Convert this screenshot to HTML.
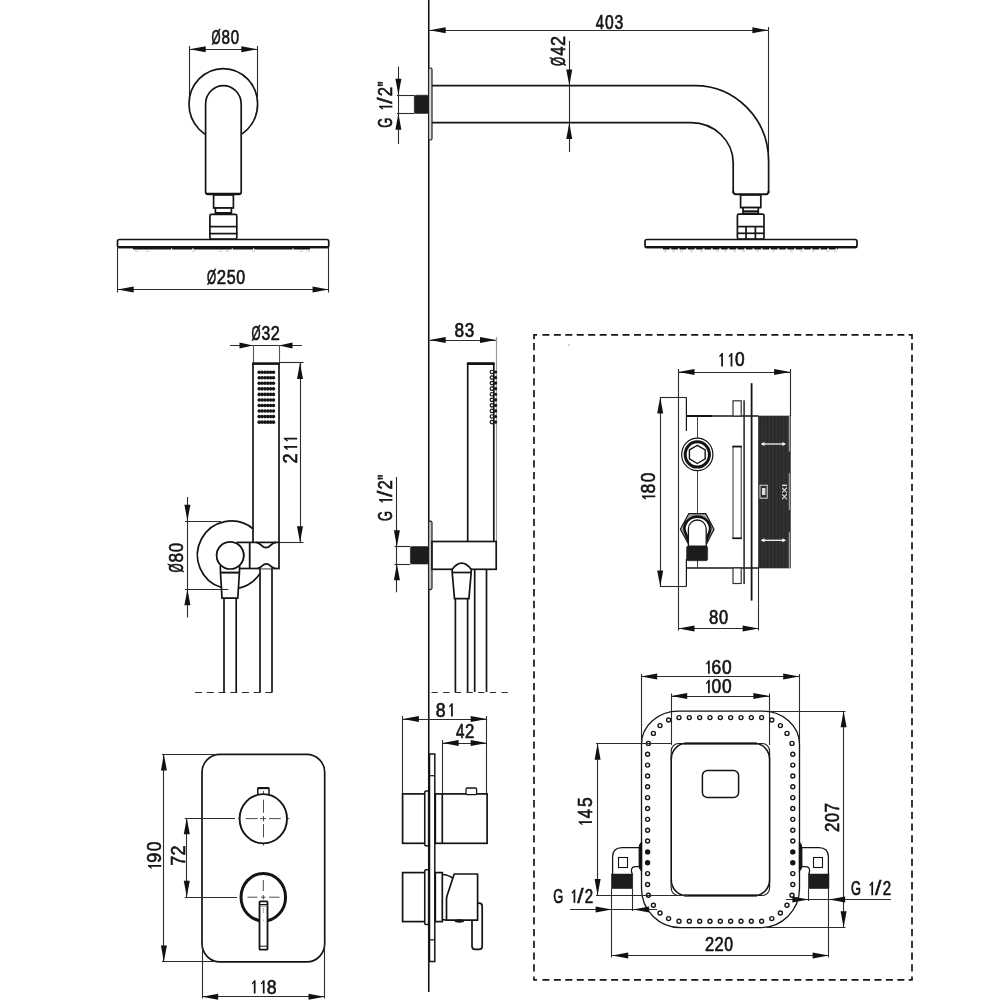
<!DOCTYPE html>
<html><head><meta charset="utf-8"><title>Drawing</title>
<style>
html,body{margin:0;padding:0;background:#fff;}
body{width:1000px;height:1000px;overflow:hidden;}
svg{display:block;will-change:transform;}
text{font-family:"Liberation Sans",sans-serif;fill:#151515;stroke:#151515;stroke-width:0.6px;vector-effect:non-scaling-stroke;}
</style></head><body>
<svg width="1000" height="1000" viewBox="0 0 1000 1000">
<rect width="1000" height="1000" fill="#fff"/>
<g transform="translate(211.90,44.2)"><text transform="translate(-0.41,0) scale(0.603,1)" font-size="19.4">Ø</text><text transform="translate(9.64,0) scale(0.785,1)" font-size="19.4">8</text><text transform="translate(18.87,0) scale(0.771,1)" font-size="19.4">0</text></g>
<line x1="189.5" y1="49.5" x2="257.5" y2="49.5" stroke="#2c2c2c" stroke-width="1.1" />
<polygon points="189.50,49.25 205.70,46.25 205.70,52.25" fill="#111"/>
<polygon points="257.50,49.25 241.30,46.25 241.30,52.25" fill="#111"/>
<line x1="189.5" y1="46" x2="189.5" y2="97" stroke="#2c2c2c" stroke-width="1.1" />
<line x1="257.5" y1="46" x2="257.5" y2="97" stroke="#2c2c2c" stroke-width="1.1" />
<ellipse cx="223.3" cy="104.1" rx="34.3" ry="35.55" fill="none" stroke="#141414" stroke-width="1.7"/>
<path d="M205.6,192 L205.6,104 A17.8,18.4 0 0 1 241.2,104 L241.2,192 Q241.2,194.3 239,194.3 L207.8,194.3 Q205.6,194.3 205.6,192 Z" stroke="#141414" stroke-width="1.7" fill="#fff" />
<line x1="206.8" y1="193.7" x2="240" y2="193.7" stroke="#141414" stroke-width="1.8" />
<rect x="213.6" y="195" width="19.8" height="13" rx="0" stroke="#141414" stroke-width="1.7" fill="#fff" />
<rect x="215.4" y="208" width="16" height="5.6" rx="0" stroke="#141414" stroke-width="1.7" fill="#fff" />
<line x1="215.4" y1="213" x2="231.4" y2="213" stroke="#141414" stroke-width="2.0" />
<rect x="209.9" y="214.4" width="26.9" height="24.8" rx="1.5" stroke="#141414" stroke-width="1.7" fill="#fff" />
<line x1="209.4" y1="226.6" x2="237.3" y2="226.6" stroke="#141414" stroke-width="1.7" />
<line x1="209.4" y1="233.6" x2="237.3" y2="233.6" stroke="#141414" stroke-width="1.7" />
<rect x="117.5" y="239.5" width="211.25" height="8" rx="2" stroke="#141414" stroke-width="1.7" fill="#fff" />
<line x1="118.5" y1="247.2" x2="327.75" y2="247.2" stroke="#141414" stroke-width="2.2" />
<line x1="133" y1="248.7" x2="310" y2="248.7" stroke="#161616" stroke-width="1.5" stroke-dasharray="38 1.2 20 1.5"/>
<line x1="135" y1="251.2" x2="138" y2="251.2" stroke="#c4c4c4" stroke-width="1.0" />
<line x1="146" y1="251.2" x2="149" y2="251.2" stroke="#c4c4c4" stroke-width="1.0" />
<line x1="192" y1="251.2" x2="195" y2="251.2" stroke="#c4c4c4" stroke-width="1.0" />
<line x1="219" y1="251.2" x2="222" y2="251.2" stroke="#c4c4c4" stroke-width="1.0" />
<line x1="226" y1="251.2" x2="229" y2="251.2" stroke="#c4c4c4" stroke-width="1.0" />
<line x1="252" y1="251.2" x2="255" y2="251.2" stroke="#c4c4c4" stroke-width="1.0" />
<line x1="300" y1="251.2" x2="303" y2="251.2" stroke="#c4c4c4" stroke-width="1.0" />
<line x1="307" y1="251.2" x2="310" y2="251.2" stroke="#c4c4c4" stroke-width="1.0" />
<line x1="117.5" y1="248" x2="117.5" y2="292.5" stroke="#2c2c2c" stroke-width="1.1" />
<line x1="328.5" y1="248" x2="328.5" y2="292.5" stroke="#2c2c2c" stroke-width="1.1" />
<line x1="117.5" y1="289.5" x2="328.75" y2="289.5" stroke="#2c2c2c" stroke-width="1.1" />
<polygon points="117.50,289.50 133.70,286.50 133.70,292.50" fill="#111"/>
<polygon points="328.75,289.50 312.55,286.50 312.55,292.50" fill="#111"/>
<g transform="translate(207.40,284.3)"><text transform="translate(-0.41,0) scale(0.603,1)" font-size="19.4">Ø</text><text transform="translate(9.46,0) scale(0.864,1)" font-size="19.4">2</text><text transform="translate(19.29,0) scale(0.830,1)" font-size="19.4">5</text><text transform="translate(28.94,0) scale(0.823,1)" font-size="19.4">0</text></g>
<line x1="428.75" y1="0" x2="428.75" y2="992" stroke="#141414" stroke-width="1.6" />
<g transform="translate(596.10,28.6)"><text transform="translate(-0.34,0) scale(0.764,1)" font-size="19.4">4</text><text transform="translate(8.86,0) scale(0.805,1)" font-size="19.4">0</text><text transform="translate(18.33,0) scale(0.812,1)" font-size="19.4">3</text></g>
<line x1="429.5" y1="30.5" x2="768.6" y2="30.5" stroke="#2c2c2c" stroke-width="1.1" />
<polygon points="429.50,30.25 445.70,27.25 445.70,33.25" fill="#111"/>
<polygon points="768.60,30.25 752.40,27.25 752.40,33.25" fill="#111"/>
<line x1="768.5" y1="27" x2="768.5" y2="160" stroke="#2c2c2c" stroke-width="1.1" />
<rect x="428.6" y="68" width="3.4" height="72" rx="1.5" stroke="#222" stroke-width="1.2" fill="#ddd" />
<path d="M432,85.6 L695,85.6 A73.6,75.4 0 0 1 768.6,161 L768.6,193 M432,122.7 L691,122.7 A42.2,40.3 0 0 1 733.2,163 L733.2,193" stroke="#141414" stroke-width="1.7" fill="none" />
<path d="M733.2,191 Q733.2,194.2 735.5,194.2 L766.3,194.2 Q768.6,194.2 768.6,191" stroke="#141414" stroke-width="1.9" fill="none" />
<rect x="740.6" y="195" width="20.2" height="12.6" rx="0" stroke="#141414" stroke-width="1.7" fill="#fff" />
<rect x="743" y="207.6" width="15.3" height="5.7" rx="0" stroke="#141414" stroke-width="1.7" fill="#fff" />
<line x1="743" y1="211.2" x2="758.3" y2="211.2" stroke="#141414" stroke-width="1.8" />
<rect x="737.4" y="214.2" width="26.6" height="24.8" rx="1.5" stroke="#141414" stroke-width="1.7" fill="#fff" />
<line x1="737.4" y1="226.6" x2="764" y2="226.6" stroke="#141414" stroke-width="1.7" />
<line x1="737.4" y1="233.3" x2="764" y2="233.3" stroke="#141414" stroke-width="1.7" />
<line x1="746" y1="226.6" x2="746" y2="239" stroke="#141414" stroke-width="1.7" />
<line x1="755.4" y1="226.6" x2="755.4" y2="239" stroke="#141414" stroke-width="1.7" />
<rect x="645" y="239.5" width="212" height="8" rx="2" stroke="#141414" stroke-width="1.7" fill="#fff" />
<line x1="646" y1="247.2" x2="856" y2="247.2" stroke="#141414" stroke-width="2.2" />
<line x1="663" y1="248.7" x2="838" y2="248.7" stroke="#161616" stroke-width="1.5" stroke-dasharray="6.5 1.8"/>
<line x1="664" y1="251.2" x2="667" y2="251.2" stroke="#c4c4c4" stroke-width="1.0" />
<line x1="672" y1="251.2" x2="675" y2="251.2" stroke="#c4c4c4" stroke-width="1.0" />
<line x1="680" y1="251.2" x2="683" y2="251.2" stroke="#c4c4c4" stroke-width="1.0" />
<line x1="690" y1="251.2" x2="693" y2="251.2" stroke="#c4c4c4" stroke-width="1.0" />
<line x1="700" y1="251.2" x2="703" y2="251.2" stroke="#c4c4c4" stroke-width="1.0" />
<line x1="716" y1="251.2" x2="719" y2="251.2" stroke="#c4c4c4" stroke-width="1.0" />
<line x1="724" y1="251.2" x2="727" y2="251.2" stroke="#c4c4c4" stroke-width="1.0" />
<line x1="733" y1="251.2" x2="736" y2="251.2" stroke="#c4c4c4" stroke-width="1.0" />
<line x1="742" y1="251.2" x2="745" y2="251.2" stroke="#c4c4c4" stroke-width="1.0" />
<line x1="756" y1="251.2" x2="759" y2="251.2" stroke="#c4c4c4" stroke-width="1.0" />
<line x1="772" y1="251.2" x2="775" y2="251.2" stroke="#c4c4c4" stroke-width="1.0" />
<line x1="790" y1="251.2" x2="793" y2="251.2" stroke="#c4c4c4" stroke-width="1.0" />
<line x1="800" y1="251.2" x2="803" y2="251.2" stroke="#c4c4c4" stroke-width="1.0" />
<line x1="812" y1="251.2" x2="815" y2="251.2" stroke="#c4c4c4" stroke-width="1.0" />
<line x1="826" y1="251.2" x2="829" y2="251.2" stroke="#c4c4c4" stroke-width="1.0" />
<line x1="834" y1="251.2" x2="837" y2="251.2" stroke="#c4c4c4" stroke-width="1.0" />
<line x1="569.5" y1="41" x2="569.5" y2="152" stroke="#2c2c2c" stroke-width="1.1" />
<polygon points="569.25,85.60 566.25,69.40 572.25,69.40" fill="#111"/>
<polygon points="569.25,122.70 566.25,138.90 572.25,138.90" fill="#111"/>
<g transform="translate(564.6,65.55) rotate(-90)"><text transform="translate(-0.41,0) scale(0.603,1)" font-size="19.4">Ø</text><text transform="translate(9.93,0) scale(0.839,1)" font-size="19.4">4</text><text transform="translate(19.59,0) scale(0.928,1)" font-size="19.4">2</text></g>
<line x1="398.5" y1="66.5" x2="398.5" y2="144" stroke="#2c2c2c" stroke-width="1.1" />
<polygon points="398.40,95.00 395.40,78.80 401.40,78.80" fill="#111"/>
<polygon points="398.40,113.50 395.40,129.70 401.40,129.70" fill="#111"/>
<line x1="397" y1="95.5" x2="414.5" y2="95.5" stroke="#2c2c2c" stroke-width="1.1" />
<line x1="397" y1="113.5" x2="414.5" y2="113.5" stroke="#2c2c2c" stroke-width="1.1" />
<rect x="414.3" y="95.2" width="14.2" height="18.2" rx="1.5" stroke="#1c1c1c" stroke-width="0.6" fill="#1c1c1c" />
<g transform="translate(392.4,127.10) rotate(-90)"><text transform="translate(-0.65,0) scale(0.663,1)" font-size="19.4">G</text><polygon points="19.65,0.00 19.65,-10.75 18.40,-9.05 17.55,-10.05 20.15,-13.35 21.40,-13.35 21.40,0.00" fill="#151515"/><text transform="translate(23.40,0) scale(1.169,1)" font-size="19.4">/</text><text transform="translate(30.86,0) scale(0.860,1)" font-size="19.4">2</text><text transform="translate(40.69,0) scale(0.745,1)" font-size="19.4">&quot;</text></g>
<g transform="translate(251.80,340)"><text transform="translate(-0.41,0) scale(0.603,1)" font-size="19.4">Ø</text><text transform="translate(9.70,0) scale(0.810,1)" font-size="19.4">3</text><text transform="translate(18.93,0) scale(0.843,1)" font-size="19.4">2</text></g>
<line x1="230.0" y1="345.5" x2="302.0" y2="345.5" stroke="#2c2c2c" stroke-width="1.1" />
<polygon points="253.00,345.50 239.50,342.50 239.50,348.50" fill="#111"/>
<polygon points="279.00,345.50 292.50,342.50 292.50,348.50" fill="#111"/>
<line x1="253.5" y1="345" x2="253.5" y2="363" stroke="#555" stroke-width="1.1" />
<line x1="279.5" y1="345" x2="279.5" y2="363" stroke="#555" stroke-width="1.1" />
<line x1="253" y1="363" x2="253" y2="542.4" stroke="#141414" stroke-width="1.7" />
<line x1="279" y1="363" x2="279" y2="542.4" stroke="#141414" stroke-width="1.7" />
<line x1="252.3" y1="363.6" x2="279.7" y2="363.6" stroke="#141414" stroke-width="2.6" />
<circle cx="259.20" cy="372.20" r="1.8" fill="#151515"/>
<circle cx="262.05" cy="372.20" r="1.8" fill="#151515"/>
<circle cx="264.90" cy="372.20" r="1.8" fill="#151515"/>
<circle cx="267.75" cy="372.20" r="1.8" fill="#151515"/>
<circle cx="270.60" cy="372.20" r="1.8" fill="#151515"/>
<circle cx="273.45" cy="372.20" r="1.8" fill="#151515"/>
<circle cx="259.20" cy="377.75" r="1.8" fill="#151515"/>
<circle cx="262.05" cy="377.75" r="1.8" fill="#151515"/>
<circle cx="264.90" cy="377.75" r="1.8" fill="#151515"/>
<circle cx="267.75" cy="377.75" r="1.8" fill="#151515"/>
<circle cx="270.60" cy="377.75" r="1.8" fill="#151515"/>
<circle cx="273.45" cy="377.75" r="1.8" fill="#151515"/>
<circle cx="259.20" cy="383.30" r="1.8" fill="#151515"/>
<circle cx="262.05" cy="383.30" r="1.8" fill="#151515"/>
<circle cx="264.90" cy="383.30" r="1.8" fill="#151515"/>
<circle cx="267.75" cy="383.30" r="1.8" fill="#151515"/>
<circle cx="270.60" cy="383.30" r="1.8" fill="#151515"/>
<circle cx="273.45" cy="383.30" r="1.8" fill="#151515"/>
<circle cx="259.20" cy="388.85" r="1.8" fill="#151515"/>
<circle cx="262.05" cy="388.85" r="1.8" fill="#151515"/>
<circle cx="264.90" cy="388.85" r="1.8" fill="#151515"/>
<circle cx="267.75" cy="388.85" r="1.8" fill="#151515"/>
<circle cx="270.60" cy="388.85" r="1.8" fill="#151515"/>
<circle cx="273.45" cy="388.85" r="1.8" fill="#151515"/>
<circle cx="259.20" cy="394.40" r="1.8" fill="#151515"/>
<circle cx="262.05" cy="394.40" r="1.8" fill="#151515"/>
<circle cx="264.90" cy="394.40" r="1.8" fill="#151515"/>
<circle cx="267.75" cy="394.40" r="1.8" fill="#151515"/>
<circle cx="270.60" cy="394.40" r="1.8" fill="#151515"/>
<circle cx="273.45" cy="394.40" r="1.8" fill="#151515"/>
<circle cx="259.20" cy="399.95" r="1.8" fill="#151515"/>
<circle cx="262.05" cy="399.95" r="1.8" fill="#151515"/>
<circle cx="264.90" cy="399.95" r="1.8" fill="#151515"/>
<circle cx="267.75" cy="399.95" r="1.8" fill="#151515"/>
<circle cx="270.60" cy="399.95" r="1.8" fill="#151515"/>
<circle cx="273.45" cy="399.95" r="1.8" fill="#151515"/>
<circle cx="259.20" cy="405.50" r="1.8" fill="#151515"/>
<circle cx="262.05" cy="405.50" r="1.8" fill="#151515"/>
<circle cx="264.90" cy="405.50" r="1.8" fill="#151515"/>
<circle cx="267.75" cy="405.50" r="1.8" fill="#151515"/>
<circle cx="270.60" cy="405.50" r="1.8" fill="#151515"/>
<circle cx="273.45" cy="405.50" r="1.8" fill="#151515"/>
<circle cx="259.20" cy="411.05" r="1.8" fill="#151515"/>
<circle cx="262.05" cy="411.05" r="1.8" fill="#151515"/>
<circle cx="264.90" cy="411.05" r="1.8" fill="#151515"/>
<circle cx="267.75" cy="411.05" r="1.8" fill="#151515"/>
<circle cx="270.60" cy="411.05" r="1.8" fill="#151515"/>
<circle cx="273.45" cy="411.05" r="1.8" fill="#151515"/>
<circle cx="259.20" cy="416.60" r="1.8" fill="#151515"/>
<circle cx="262.05" cy="416.60" r="1.8" fill="#151515"/>
<circle cx="264.90" cy="416.60" r="1.8" fill="#151515"/>
<circle cx="267.75" cy="416.60" r="1.8" fill="#151515"/>
<circle cx="270.60" cy="416.60" r="1.8" fill="#151515"/>
<circle cx="273.45" cy="416.60" r="1.8" fill="#151515"/>
<circle cx="259.20" cy="422.15" r="1.8" fill="#151515"/>
<circle cx="262.05" cy="422.15" r="1.8" fill="#151515"/>
<circle cx="264.90" cy="422.15" r="1.8" fill="#151515"/>
<circle cx="267.75" cy="422.15" r="1.8" fill="#151515"/>
<circle cx="270.60" cy="422.15" r="1.8" fill="#151515"/>
<circle cx="273.45" cy="422.15" r="1.8" fill="#151515"/>
<line x1="279" y1="362.5" x2="303.5" y2="362.5" stroke="#2c2c2c" stroke-width="1.1" />
<line x1="279" y1="542.5" x2="303.5" y2="542.5" stroke="#2c2c2c" stroke-width="1.1" />
<line x1="300.5" y1="362.7" x2="300.5" y2="542.4" stroke="#2c2c2c" stroke-width="1.1" />
<polygon points="300.00,362.70 297.00,378.90 303.00,378.90" fill="#111"/>
<polygon points="300.00,542.40 297.00,526.20 303.00,526.20" fill="#111"/>
<g transform="translate(297.2,462.70) rotate(-90)"><text transform="translate(-0.92,0) scale(0.939,1)" font-size="19.4">2</text><polygon points="14.90,0.00 14.90,-10.75 13.65,-9.05 12.80,-10.05 15.40,-13.35 16.65,-13.35 16.65,0.00" fill="#151515"/><polygon points="23.25,0.00 23.25,-10.75 22.00,-9.05 21.15,-10.05 23.75,-13.35 25.00,-13.35 25.00,0.00" fill="#151515"/></g>
<path d="M253.00,528.74 A34,34 0 1 0 221.60,587.56" stroke="#141414" stroke-width="1.7" fill="none" />
<path d="M238.90,588.16 A34,34 0 0 0 260.00,573.39" stroke="#141414" stroke-width="1.7" fill="none" />
<rect x="237.4" y="542.4" width="41.6" height="26.1" rx="0" stroke="#141414" stroke-width="1.7" fill="#fff" />
<line x1="249.7" y1="542.4" x2="249.7" y2="568.5" stroke="#141414" stroke-width="1.8" />
<path d="M256.2,542.4 C259,542.6 260,544 261.4,545.4 Q266,549.9 270.6,545.4 C272,544 273,542.6 275.8,542.4" stroke="#141414" stroke-width="1.8" fill="none" />
<path d="M257.2,568.5 C259.8,568.3 260.8,567 262,566 Q266.3,561.6 270.6,566 C271.8,567 272.8,568.3 275.4,568.5" stroke="#141414" stroke-width="1.7" fill="#fff" />
<circle cx="230.2" cy="555.5" r="13.5" stroke="#141414" stroke-width="1.7" fill="#fff" />
<path d="M220.3,566 L220.5,572.6 L222,598.2 L237.8,598.2 L239.4,572.6 L239.6,566" stroke="#141414" stroke-width="1.7" fill="#fff" />
<line x1="220.5" y1="572.6" x2="239.4" y2="572.6" stroke="#141414" stroke-width="2.0" />
<circle cx="230.2" cy="555.5" r="13.5" stroke="#141414" stroke-width="1.7" fill="#fff" />
<line x1="224" y1="598.2" x2="224" y2="692.3" stroke="#141414" stroke-width="1.7" />
<line x1="236.2" y1="598.2" x2="236.2" y2="692.3" stroke="#141414" stroke-width="1.7" />
<line x1="260" y1="568.5" x2="260" y2="692.3" stroke="#141414" stroke-width="1.7" />
<line x1="272" y1="568.5" x2="272" y2="692.3" stroke="#141414" stroke-width="1.7" />
<line x1="195.1" y1="692.5" x2="272.6" y2="692.5" stroke="#2c2c2c" stroke-width="1.0" stroke-dasharray="7 4.7"/>
<line x1="187.5" y1="497" x2="187.5" y2="617.6" stroke="#2c2c2c" stroke-width="1.1" />
<polygon points="187.40,521.00 184.40,504.80 190.40,504.80" fill="#111"/>
<polygon points="187.40,589.00 184.40,605.20 190.40,605.20" fill="#111"/>
<line x1="185" y1="521.5" x2="221" y2="521.5" stroke="#2c2c2c" stroke-width="1.1" />
<line x1="185" y1="589.5" x2="228.4" y2="589.5" stroke="#2c2c2c" stroke-width="1.1" />
<g transform="translate(183.4,572.05) rotate(-90)"><text transform="translate(-0.41,0) scale(0.603,1)" font-size="19.4">Ø</text><text transform="translate(9.55,0) scale(0.890,1)" font-size="19.4">8</text><text transform="translate(19.74,0) scale(0.873,1)" font-size="19.4">0</text></g>
<g transform="translate(455.30,336.7)"><text transform="translate(-0.75,0) scale(0.890,1)" font-size="19.4">8</text><text transform="translate(9.45,0) scale(0.881,1)" font-size="19.4">3</text></g>
<line x1="429.5" y1="340.5" x2="496.2" y2="340.5" stroke="#2c2c2c" stroke-width="1.1" />
<polygon points="429.50,340.00 445.70,337.00 445.70,343.00" fill="#111"/>
<polygon points="496.20,340.00 480.00,337.00 480.00,343.00" fill="#111"/>
<line x1="496.5" y1="337" x2="496.5" y2="541.5" stroke="#999" stroke-width="1.2" />
<line x1="467.7" y1="363.5" x2="467.7" y2="541.5" stroke="#141414" stroke-width="1.7" />
<line x1="493.8" y1="363.5" x2="493.8" y2="541.5" stroke="#141414" stroke-width="1.7" />
<line x1="466.9" y1="363.6" x2="494.6" y2="363.6" stroke="#141414" stroke-width="2.8" />
<circle cx="495.6" cy="372.00" r="1.6" fill="#151515"/>
<circle cx="491.9" cy="372.00" r="1.75" fill="#fff" stroke="#151515" stroke-width="1.2"/>
<circle cx="495.6" cy="377.56" r="1.6" fill="#151515"/>
<circle cx="491.9" cy="377.56" r="1.75" fill="#fff" stroke="#151515" stroke-width="1.2"/>
<circle cx="495.6" cy="383.12" r="1.6" fill="#151515"/>
<circle cx="491.9" cy="383.12" r="1.75" fill="#fff" stroke="#151515" stroke-width="1.2"/>
<circle cx="495.6" cy="388.68" r="1.6" fill="#151515"/>
<circle cx="491.9" cy="388.68" r="1.75" fill="#fff" stroke="#151515" stroke-width="1.2"/>
<circle cx="495.6" cy="394.24" r="1.6" fill="#151515"/>
<circle cx="491.9" cy="394.24" r="1.75" fill="#fff" stroke="#151515" stroke-width="1.2"/>
<circle cx="495.6" cy="399.80" r="1.6" fill="#151515"/>
<circle cx="491.9" cy="399.80" r="1.75" fill="#fff" stroke="#151515" stroke-width="1.2"/>
<circle cx="495.6" cy="405.36" r="1.6" fill="#151515"/>
<circle cx="491.9" cy="405.36" r="1.75" fill="#fff" stroke="#151515" stroke-width="1.2"/>
<circle cx="495.6" cy="410.92" r="1.6" fill="#151515"/>
<circle cx="491.9" cy="410.92" r="1.75" fill="#fff" stroke="#151515" stroke-width="1.2"/>
<circle cx="495.6" cy="416.48" r="1.6" fill="#151515"/>
<circle cx="491.9" cy="416.48" r="1.75" fill="#fff" stroke="#151515" stroke-width="1.2"/>
<circle cx="495.6" cy="422.04" r="1.6" fill="#151515"/>
<circle cx="491.9" cy="422.04" r="1.75" fill="#fff" stroke="#151515" stroke-width="1.2"/>
<rect x="428.6" y="521.2" width="3.4" height="68.4" rx="1.5" stroke="#222" stroke-width="1.2" fill="#c8c8c8" />
<rect x="432" y="541.5" width="64.2" height="27.8" rx="0" stroke="#141414" stroke-width="1.7" fill="#fff" />
<rect x="410.4" y="546.6" width="18" height="17.4" rx="1.5" stroke="#1c1c1c" stroke-width="0.6" fill="#1c1c1c" />
<line x1="394.5" y1="546.5" x2="410.4" y2="546.5" stroke="#2c2c2c" stroke-width="1.1" />
<line x1="394.5" y1="564.5" x2="410.4" y2="564.5" stroke="#2c2c2c" stroke-width="1.1" />
<line x1="396.5" y1="477" x2="396.5" y2="592.3" stroke="#2c2c2c" stroke-width="1.1" />
<polygon points="396.90,546.40 393.90,530.20 399.90,530.20" fill="#111"/>
<polygon points="396.90,564.00 393.90,580.20 399.90,580.20" fill="#111"/>
<g transform="translate(392.4,520.40) rotate(-90)"><text transform="translate(-0.65,0) scale(0.663,1)" font-size="19.4">G</text><polygon points="19.65,0.00 19.65,-10.75 18.40,-9.05 17.55,-10.05 20.15,-13.35 21.40,-13.35 21.40,0.00" fill="#151515"/><text transform="translate(23.40,0) scale(1.169,1)" font-size="19.4">/</text><text transform="translate(30.86,0) scale(0.860,1)" font-size="19.4">2</text><text transform="translate(40.69,0) scale(0.745,1)" font-size="19.4">&quot;</text></g>
<path d="M452.2,572.5 L452.2,569.3 Q461.7,557 471.2,569.3 L471.2,572.5 L468.9,598.6 L454.5,598.6 Z" stroke="#141414" stroke-width="1.7" fill="#fff" />
<line x1="452.2" y1="572.5" x2="471.2" y2="572.5" stroke="#141414" stroke-width="1.7" />
<line x1="455.4" y1="598.6" x2="455.4" y2="692" stroke="#141414" stroke-width="1.7" />
<line x1="467.6" y1="598.6" x2="467.6" y2="692" stroke="#141414" stroke-width="1.7" />
<line x1="474.7" y1="569.3" x2="474.7" y2="692" stroke="#141414" stroke-width="1.7" />
<line x1="486.5" y1="569.3" x2="486.5" y2="692" stroke="#141414" stroke-width="1.7" />
<line x1="431.5" y1="692.5" x2="508" y2="692.5" stroke="#2c2c2c" stroke-width="1.0" stroke-dasharray="6.2 5.47"/>
<rect x="202" y="754.3" width="122.7" height="207.5" rx="18" stroke="#141414" stroke-width="1.7" fill="none" />
<line x1="162" y1="754.5" x2="216" y2="754.5" stroke="#2c2c2c" stroke-width="1.1" />
<line x1="162" y1="961.5" x2="216" y2="961.5" stroke="#2c2c2c" stroke-width="1.1" />
<line x1="163.5" y1="754.3" x2="163.5" y2="961.8" stroke="#2c2c2c" stroke-width="1.1" />
<polygon points="163.90,754.30 160.90,770.50 166.90,770.50" fill="#111"/>
<polygon points="163.90,961.80 160.90,945.60 166.90,945.60" fill="#111"/>
<g transform="translate(161.3,868.85) rotate(-90)"><polygon points="2.10,0.00 2.10,-10.75 0.85,-9.05 0.00,-10.05 2.60,-13.35 3.85,-13.35 3.85,0.00" fill="#151515"/><text transform="translate(6.13,0) scale(0.926,1)" font-size="19.4">9</text><text transform="translate(17.72,0) scale(0.895,1)" font-size="19.4">0</text></g>
<line x1="186.5" y1="818" x2="186.5" y2="897" stroke="#2c2c2c" stroke-width="1.1" />
<polygon points="186.80,818.00 183.80,834.20 189.80,834.20" fill="#111"/>
<polygon points="186.80,897.00 183.80,880.80 189.80,880.80" fill="#111"/>
<line x1="184.7" y1="818.5" x2="235" y2="818.5" stroke="#2c2c2c" stroke-width="1.1" />
<line x1="184.7" y1="897.5" x2="237" y2="897.5" stroke="#2c2c2c" stroke-width="1.1" />
<g transform="translate(184.7,864.90) rotate(-90)"><text transform="translate(-0.92,0) scale(0.930,1)" font-size="19.4">7</text><text transform="translate(9.29,0) scale(0.928,1)" font-size="19.4">2</text></g>
<rect x="257.8" y="787.8" width="11.2" height="8" rx="0.8" stroke="#141414" stroke-width="1.5" fill="#fff" />
<line x1="257.8" y1="788.2" x2="269" y2="788.2" stroke="#141414" stroke-width="1.9" />
<ellipse cx="263.3" cy="818.75" rx="23.7" ry="24.6" fill="#fff" stroke="#141414" stroke-width="1.9"/>
<line x1="238" y1="818.6" x2="239.4" y2="818.6" stroke="#3a3a3a" stroke-width="0.9" />
<line x1="245.7" y1="818.6" x2="257.8" y2="818.6" stroke="#3a3a3a" stroke-width="0.9" />
<line x1="260" y1="818.6" x2="266" y2="818.6" stroke="#3a3a3a" stroke-width="0.9" />
<line x1="269" y1="818.6" x2="280.8" y2="818.6" stroke="#3a3a3a" stroke-width="0.9" />
<line x1="288" y1="818.6" x2="289.3" y2="818.6" stroke="#3a3a3a" stroke-width="0.9" />
<line x1="263.5" y1="791" x2="263.5" y2="794" stroke="#3a3a3a" stroke-width="0.9" />
<line x1="263.5" y1="799.7" x2="263.5" y2="812.8" stroke="#3a3a3a" stroke-width="0.9" />
<line x1="263.5" y1="816" x2="263.5" y2="821.3" stroke="#3a3a3a" stroke-width="0.9" />
<line x1="263.5" y1="824" x2="263.5" y2="837.5" stroke="#3a3a3a" stroke-width="0.9" />
<line x1="263.5" y1="843.8" x2="263.5" y2="845.6" stroke="#3a3a3a" stroke-width="0.9" />
<ellipse cx="263.3" cy="897.15" rx="22.25" ry="23.75" fill="none" stroke="#141414" stroke-width="3"/>
<line x1="247.5" y1="897.2" x2="257.5" y2="897.2" stroke="#3a3a3a" stroke-width="0.9" />
<line x1="261" y1="897.2" x2="265.5" y2="897.2" stroke="#3a3a3a" stroke-width="0.9" />
<line x1="269" y1="897.2" x2="279.5" y2="897.2" stroke="#3a3a3a" stroke-width="0.9" />
<line x1="263.3" y1="880" x2="263.3" y2="891" stroke="#3a3a3a" stroke-width="0.9" />
<line x1="263.3" y1="895" x2="263.3" y2="899.5" stroke="#3a3a3a" stroke-width="0.9" />
<rect x="259.5" y="901.4" width="8" height="48.3" rx="0.8" stroke="#141414" stroke-width="1.8" fill="#fff" />
<line x1="259.5" y1="904.5" x2="267.5" y2="904.5" stroke="#141414" stroke-width="1.0" />
<line x1="259.5" y1="906" x2="267.5" y2="906" stroke="#555" stroke-width="0.8" />
<line x1="259.5" y1="946.2" x2="267.5" y2="946.2" stroke="#141414" stroke-width="1.0" />
<line x1="263.3" y1="908" x2="263.3" y2="913" stroke="#888" stroke-width="0.7" />
<line x1="263.3" y1="919.5" x2="263.3" y2="921" stroke="#888" stroke-width="0.7" />
<line x1="202.5" y1="942" x2="202.5" y2="998.5" stroke="#2c2c2c" stroke-width="1.1" />
<line x1="324.5" y1="942" x2="324.5" y2="998.5" stroke="#2c2c2c" stroke-width="1.1" />
<line x1="202" y1="996.5" x2="324.7" y2="996.5" stroke="#2c2c2c" stroke-width="1.1" />
<polygon points="202.00,996.80 218.20,993.80 218.20,999.80" fill="#111"/>
<polygon points="324.70,996.80 308.50,993.80 308.50,999.80" fill="#111"/>
<g transform="translate(251.70,993.6)"><polygon points="2.10,0.00 2.10,-10.75 0.85,-9.05 0.00,-10.05 2.60,-13.35 3.85,-13.35 3.85,0.00" fill="#151515"/><polygon points="11.12,0.00 11.12,-10.75 9.87,-9.05 9.02,-10.05 11.62,-13.35 12.87,-13.35 12.87,0.00" fill="#151515"/><text transform="translate(15.13,0) scale(0.912,1)" font-size="19.4">8</text></g>
<g transform="translate(436.40,716.5)"><text transform="translate(-0.77,0) scale(0.912,1)" font-size="19.4">8</text><polygon points="14.65,0.00 14.65,-10.75 13.40,-9.05 12.55,-10.05 15.15,-13.35 16.40,-13.35 16.40,0.00" fill="#151515"/></g>
<line x1="402.7" y1="719.5" x2="486.9" y2="719.5" stroke="#2c2c2c" stroke-width="1.1" />
<polygon points="402.70,719.00 418.90,716.00 418.90,722.00" fill="#111"/>
<polygon points="486.90,719.00 470.70,716.00 470.70,722.00" fill="#111"/>
<line x1="402.5" y1="716" x2="402.5" y2="794" stroke="#2c2c2c" stroke-width="1.1" />
<line x1="486.5" y1="716" x2="486.5" y2="794" stroke="#2c2c2c" stroke-width="1.1" />
<g transform="translate(456.25,738.1)"><text transform="translate(-0.35,0) scale(0.783,1)" font-size="19.4">4</text><text transform="translate(8.81,0) scale(0.866,1)" font-size="19.4">2</text></g>
<line x1="442.4" y1="743.5" x2="486.9" y2="743.5" stroke="#2c2c2c" stroke-width="1.1" />
<polygon points="442.40,743.00 458.60,740.00 458.60,746.00" fill="#111"/>
<polygon points="486.90,743.00 470.70,740.00 470.70,746.00" fill="#111"/>
<line x1="442.5" y1="740" x2="442.5" y2="794" stroke="#2c2c2c" stroke-width="1.1" />
<rect x="429.5" y="754" width="5.3" height="207.5" rx="0" stroke="#141414" stroke-width="1.5" fill="#fff" />
<line x1="429.5" y1="775.7" x2="434.7" y2="775.7" stroke="#141414" stroke-width="1.2" />
<line x1="429.5" y1="939.8" x2="434.7" y2="939.8" stroke="#141414" stroke-width="1.2" />
<rect x="402.6" y="793.9" width="22.2" height="49.4" rx="0" stroke="#141414" stroke-width="1.7" fill="#fff" />
<rect x="424.8" y="791" width="3.8" height="54.7" rx="1" stroke="#141414" stroke-width="1.5" fill="#fff" />
<rect x="435.3" y="793.9" width="51.8" height="49.4" rx="0" stroke="#141414" stroke-width="1.7" fill="#fff" />
<line x1="442.3" y1="793.9" x2="442.3" y2="843.3" stroke="#141414" stroke-width="1.7" />
<rect x="466" y="788" width="10.6" height="6.6" rx="1.2" stroke="#141414" stroke-width="1.3" fill="#fff" />
<rect x="402.6" y="872.6" width="22.2" height="49" rx="0" stroke="#141414" stroke-width="1.7" fill="#fff" />
<rect x="424.8" y="869.8" width="3.8" height="54.6" rx="1" stroke="#141414" stroke-width="1.5" fill="#fff" />
<rect x="435.3" y="872.6" width="7" height="49" rx="0" stroke="#141414" stroke-width="1.7" fill="#fff" />
<path d="M442.3,874.5 Q448.5,874.8 452.6,878.2" stroke="#141414" stroke-width="1.7" fill="none" />
<path d="M442.3,919.5 L446.5,920.2" stroke="#141414" stroke-width="1.7" fill="none" />
<rect x="472" y="903.2" width="10.2" height="46.2" rx="3.2" stroke="#141414" stroke-width="1.7" fill="#fff" />
<path d="M454.2,874 L477.6,874 L477.6,920.2 L446.5,920.2 L446.5,899 Q446.6,897 447.3,895 Z" stroke="#141414" stroke-width="1.7" fill="#fff" stroke-linejoin="round"/>
<ellipse cx="459.4" cy="921" rx="4.8" ry="1.7" fill="#151515"/>
<path d="M533.2,334.8 H537 M542.40,334.8 h7 M553.85,334.8 h7 M565.30,334.8 h7 M576.75,334.8 h7 M588.20,334.8 h7 M599.65,334.8 h7 M611.10,334.8 h7 M622.55,334.8 h7 M634.00,334.8 h7 M645.45,334.8 h7 M656.90,334.8 h7 M668.35,334.8 h7 M679.80,334.8 h7 M691.25,334.8 h7 M702.70,334.8 h7 M714.15,334.8 h7 M725.60,334.8 h7 M737.05,334.8 h7 M748.50,334.8 h7 M759.95,334.8 h7 M771.40,334.8 h7 M782.85,334.8 h7 M794.30,334.8 h7 M805.75,334.8 h7 M817.20,334.8 h7 M828.65,334.8 h7 M840.10,334.8 h7 M851.55,334.8 h7 M863.00,334.8 h7 M874.45,334.8 h7 M885.90,334.8 h7 M897.35,334.8 h7 M908.7,334.8 H912.8 M533.2,979.8 H537 M542.40,979.8 h7 M553.85,979.8 h7 M565.30,979.8 h7 M576.75,979.8 h7 M588.20,979.8 h7 M599.65,979.8 h7 M611.10,979.8 h7 M622.55,979.8 h7 M634.00,979.8 h7 M645.45,979.8 h7 M656.90,979.8 h7 M668.35,979.8 h7 M679.80,979.8 h7 M691.25,979.8 h7 M702.70,979.8 h7 M714.15,979.8 h7 M725.60,979.8 h7 M737.05,979.8 h7 M748.50,979.8 h7 M759.95,979.8 h7 M771.40,979.8 h7 M782.85,979.8 h7 M794.30,979.8 h7 M805.75,979.8 h7 M817.20,979.8 h7 M828.65,979.8 h7 M840.10,979.8 h7 M851.55,979.8 h7 M863.00,979.8 h7 M874.45,979.8 h7 M885.90,979.8 h7 M897.35,979.8 h7 M908.7,979.8 H912.8 M534,334 V339.2 M534,343.00 v7.3 M534,354.72 v7.3 M534,366.44 v7.3 M534,378.16 v7.3 M534,389.88 v7.3 M534,401.60 v7.3 M534,413.32 v7.3 M534,425.04 v7.3 M534,436.76 v7.3 M534,448.48 v7.3 M534,460.20 v7.3 M534,471.92 v7.3 M534,483.64 v7.3 M534,495.36 v7.3 M534,507.08 v7.3 M534,518.80 v7.3 M534,530.52 v7.3 M534,542.24 v7.3 M534,553.96 v7.3 M534,565.68 v7.3 M534,577.40 v7.3 M534,589.12 v7.3 M534,600.84 v7.3 M534,612.56 v7.3 M534,624.28 v7.3 M534,636.00 v7.3 M534,647.72 v7.3 M534,659.44 v7.3 M534,671.16 v7.3 M534,682.88 v7.3 M534,694.60 v7.3 M534,706.32 v7.3 M534,718.04 v7.3 M534,729.76 v7.3 M534,741.48 v7.3 M534,753.20 v7.3 M534,764.92 v7.3 M534,776.64 v7.3 M534,788.36 v7.3 M534,800.08 v7.3 M534,811.80 v7.3 M534,823.52 v7.3 M534,835.24 v7.3 M534,846.96 v7.3 M534,858.68 v7.3 M534,870.40 v7.3 M534,882.12 v7.3 M534,893.84 v7.3 M534,905.56 v7.3 M534,917.28 v7.3 M534,929.00 v7.3 M534,940.72 v7.3 M534,952.44 v7.3 M534,964.16 v7.3 M534,976.6 V980.6 M912,334 V339.2 M912,343.00 v7.3 M912,354.72 v7.3 M912,366.44 v7.3 M912,378.16 v7.3 M912,389.88 v7.3 M912,401.60 v7.3 M912,413.32 v7.3 M912,425.04 v7.3 M912,436.76 v7.3 M912,448.48 v7.3 M912,460.20 v7.3 M912,471.92 v7.3 M912,483.64 v7.3 M912,495.36 v7.3 M912,507.08 v7.3 M912,518.80 v7.3 M912,530.52 v7.3 M912,542.24 v7.3 M912,553.96 v7.3 M912,565.68 v7.3 M912,577.40 v7.3 M912,589.12 v7.3 M912,600.84 v7.3 M912,612.56 v7.3 M912,624.28 v7.3 M912,636.00 v7.3 M912,647.72 v7.3 M912,659.44 v7.3 M912,671.16 v7.3 M912,682.88 v7.3 M912,694.60 v7.3 M912,706.32 v7.3 M912,718.04 v7.3 M912,729.76 v7.3 M912,741.48 v7.3 M912,753.20 v7.3 M912,764.92 v7.3 M912,776.64 v7.3 M912,788.36 v7.3 M912,800.08 v7.3 M912,811.80 v7.3 M912,823.52 v7.3 M912,835.24 v7.3 M912,846.96 v7.3 M912,858.68 v7.3 M912,870.40 v7.3 M912,882.12 v7.3 M912,893.84 v7.3 M912,905.56 v7.3 M912,917.28 v7.3 M912,929.00 v7.3 M912,940.72 v7.3 M912,952.44 v7.3 M912,964.16 v7.3 M912,976.6 V980.6" fill="none" stroke="#161616" stroke-width="1.7"/>
<circle cx="569" cy="345" r="0.7" fill="#888"/>
<g transform="translate(719.10,366.4)"><polygon points="2.10,0.00 2.10,-10.75 0.85,-9.05 0.00,-10.05 2.60,-13.35 3.85,-13.35 3.85,0.00" fill="#151515"/><polygon points="11.52,0.00 11.52,-10.75 10.27,-9.05 9.42,-10.05 12.02,-13.35 13.27,-13.35 13.27,0.00" fill="#151515"/><text transform="translate(16.02,0) scale(0.895,1)" font-size="19.4">0</text></g>
<line x1="678.3" y1="372.5" x2="790.3" y2="372.5" stroke="#2c2c2c" stroke-width="1.1" />
<polygon points="678.30,372.00 694.50,369.00 694.50,375.00" fill="#111"/>
<polygon points="790.30,372.00 774.10,369.00 774.10,375.00" fill="#111"/>
<line x1="678.5" y1="369" x2="678.5" y2="630.5" stroke="#2c2c2c" stroke-width="1.1" />
<line x1="790.5" y1="369" x2="790.5" y2="416" stroke="#2c2c2c" stroke-width="1.1" />
<line x1="660.5" y1="397.2" x2="660.5" y2="586.6" stroke="#2c2c2c" stroke-width="1.1" />
<polygon points="660.20,397.20 657.20,413.40 663.20,413.40" fill="#111"/>
<polygon points="660.20,586.60 657.20,570.40 663.20,570.40" fill="#111"/>
<line x1="659.8" y1="397.5" x2="686.4" y2="397.5" stroke="#2c2c2c" stroke-width="1.1" />
<line x1="659.8" y1="586.5" x2="686.4" y2="586.5" stroke="#2c2c2c" stroke-width="1.1" />
<line x1="686.4" y1="397.2" x2="686.4" y2="431" stroke="#141414" stroke-width="1.2" />
<line x1="686.4" y1="559" x2="686.4" y2="586.6" stroke="#141414" stroke-width="1.2" />
<g transform="translate(655.3,499.45) rotate(-90)"><polygon points="2.10,0.00 2.10,-10.75 0.85,-9.05 0.00,-10.05 2.60,-13.35 3.85,-13.35 3.85,0.00" fill="#151515"/><text transform="translate(6.01,0) scale(0.912,1)" font-size="19.4">8</text><text transform="translate(17.32,0) scale(0.895,1)" font-size="19.4">0</text></g>
<line x1="686.4" y1="416" x2="758.4" y2="416" stroke="#141414" stroke-width="1.4" />
<line x1="686.4" y1="416" x2="712" y2="416" stroke="#141414" stroke-width="2.0" />
<line x1="686.4" y1="568" x2="758.4" y2="568" stroke="#141414" stroke-width="1.4" />
<line x1="697.5" y1="416" x2="697.5" y2="568" stroke="#2c2c2c" stroke-width="0.9" />
<rect x="733" y="400.8" width="8.2" height="15.2" rx="0" stroke="#333" stroke-width="1.2" fill="#fff" />
<rect x="733" y="568" width="8.2" height="15.5" rx="0" stroke="#333" stroke-width="1.2" fill="#fff" />
<line x1="744.1" y1="400.3" x2="744.1" y2="584" stroke="#222" stroke-width="1.5" />
<line x1="751.6" y1="383.2" x2="751.6" y2="600.6" stroke="#141414" stroke-width="1.8" />
<rect x="733" y="446.4" width="8.2" height="92" rx="0" stroke="#444" stroke-width="1.1" fill="#fff" />
<line x1="732.4" y1="446.6" x2="741.8" y2="446.6" stroke="#141414" stroke-width="1.7" />
<line x1="732.4" y1="538.3" x2="741.8" y2="538.3" stroke="#141414" stroke-width="1.7" />
<defs><pattern id="hl" width="3.6" height="10" patternUnits="userSpaceOnUse"><rect width="3.6" height="10" fill="#323232"/><rect width="1.6" height="10" fill="#282828"/></pattern></defs>
<rect x="758.4" y="416" width="31.9" height="152" fill="url(#hl)" stroke="#222" stroke-width="0.6"/>
<line x1="762" y1="444" x2="784.5" y2="444" stroke="#f2f2f2" stroke-width="1.3"/>
<polygon points="760.6,444 764.5,442 764.5,446" fill="#f2f2f2"/>
<polygon points="786.2,444 782.3,442 782.3,446" fill="#f2f2f2"/>
<line x1="762" y1="540.3" x2="784.5" y2="540.3" stroke="#f2f2f2" stroke-width="1.3"/>
<polygon points="760.6,540.3 764.5,538.3 764.5,542.3" fill="#f2f2f2"/>
<polygon points="786.2,540.3 782.3,538.3 782.3,542.3" fill="#f2f2f2"/>
<line x1="789.3" y1="416" x2="789.3" y2="451.6" stroke="#bbb" stroke-width="1"/>
<line x1="789.3" y1="473.2" x2="789.3" y2="510" stroke="#bbb" stroke-width="1"/>
<line x1="789.3" y1="532.2" x2="789.3" y2="568" stroke="#bbb" stroke-width="1"/>
<rect x="760" y="485.2" width="7.2" height="13" fill="none" stroke="#eee" stroke-width="0.9"/>
<rect x="762" y="488" width="3.4" height="7" fill="#ddd"/>
<text transform="translate(787.4,500) rotate(-90)" font-size="6.5" style="fill:#ddd;stroke:none" textLength="16" lengthAdjust="spacingAndGlyphs" font-weight="bold">XXI</text>
<ellipse cx="697.3" cy="454.4" rx="15.6" ry="16.3" fill="#fff" stroke="#141414" stroke-width="1.2"/>
<ellipse cx="697.3" cy="454.4" rx="12.1" ry="12.7" fill="#fff" stroke="#141414" stroke-width="3"/>
<polygon points="705.18,458.95 697.30,463.50 689.42,458.95 689.42,449.85 697.30,445.30 705.18,449.85" fill="#fff" stroke="#141414" stroke-width="1.4" stroke-linejoin="round"/>
<path d="M688.7,513.7 L705.9,513.7 L714,529.2 L706.9,543.2 L688,543.2 L680.4,529.2 Z" stroke="#1c1c1c" stroke-width="1.3" fill="#a8a8a8" stroke-linejoin="round"/>
<path d="M689.8,544 L684.9,531.5 Q683.6,528 685.2,524.5 A13,12.4 0 0 1 709.4,524.5 Q711,528 709.7,531.5 L704.9,544 Z" stroke="#111" stroke-width="2.7" fill="#fff" />
<path d="M688.4,546.5 L688.4,529 A8.9,9 0 0 1 706.2,529 L706.2,546.5 Z" stroke="#141414" stroke-width="1.3" fill="#fff" />
<rect x="686.6" y="546" width="21" height="14.7" rx="1.6" stroke="#1c1c1c" stroke-width="0.6" fill="#1c1c1c" />
<line x1="758.5" y1="568" x2="758.5" y2="630.5" stroke="#2c2c2c" stroke-width="1.1" />
<line x1="678.3" y1="628.5" x2="758.8" y2="628.5" stroke="#2c2c2c" stroke-width="1.1" />
<polygon points="678.30,628.50 694.50,625.50 694.50,631.50" fill="#111"/>
<polygon points="758.80,628.50 742.60,625.50 742.60,631.50" fill="#111"/>
<g transform="translate(709.75,623.7)"><text transform="translate(-0.73,0) scale(0.862,1)" font-size="19.4">8</text><text transform="translate(9.21,0) scale(0.846,1)" font-size="19.4">0</text></g>
<g transform="translate(705.90,673.8)"><polygon points="2.10,0.00 2.10,-10.75 0.85,-9.05 0.00,-10.05 2.60,-13.35 3.85,-13.35 3.85,0.00" fill="#151515"/><text transform="translate(5.31,0) scale(0.927,1)" font-size="19.4">6</text><text transform="translate(16.22,0) scale(0.895,1)" font-size="19.4">0</text></g>
<line x1="641" y1="676.5" x2="799.4" y2="676.5" stroke="#2c2c2c" stroke-width="1.1" />
<polygon points="641.00,676.40 657.20,673.40 657.20,679.40" fill="#111"/>
<polygon points="799.40,676.40 783.20,673.40 783.20,679.40" fill="#111"/>
<line x1="641.5" y1="674" x2="641.5" y2="745" stroke="#2c2c2c" stroke-width="1.1" />
<line x1="799.5" y1="674" x2="799.5" y2="745" stroke="#2c2c2c" stroke-width="1.1" />
<g transform="translate(705.90,693.2)"><polygon points="2.10,0.00 2.10,-10.75 0.85,-9.05 0.00,-10.05 2.60,-13.35 3.85,-13.35 3.85,0.00" fill="#151515"/><text transform="translate(5.55,0) scale(0.895,1)" font-size="19.4">0</text><text transform="translate(16.22,0) scale(0.895,1)" font-size="19.4">0</text></g>
<line x1="671" y1="696.5" x2="769.6" y2="696.5" stroke="#2c2c2c" stroke-width="1.1" />
<polygon points="671.00,696.00 687.20,693.00 687.20,699.00" fill="#111"/>
<polygon points="769.60,696.00 753.40,693.00 753.40,699.00" fill="#111"/>
<line x1="671.5" y1="693.5" x2="671.5" y2="745" stroke="#2c2c2c" stroke-width="1.1" />
<line x1="769.5" y1="693.5" x2="769.5" y2="745" stroke="#2c2c2c" stroke-width="1.1" />
<path d="M641.5,744 A37,33 0 0 1 678.5,711.2 L762.5,711.2 A37,33 0 0 1 799.5,744 L799.5,888.6 A39,39 0 0 1 760.5,927.6 L680.5,927.6 A39,39 0 0 1 641.5,888.6 Z" stroke="#141414" stroke-width="1.3" fill="none" />
<circle cx="679.00" cy="717.60" r="2.0" fill="#fff" stroke="#151515" stroke-width="1.4"/>
<circle cx="679.00" cy="921.20" r="2.0" fill="#fff" stroke="#151515" stroke-width="1.4"/>
<circle cx="689.33" cy="717.60" r="2.0" fill="#fff" stroke="#151515" stroke-width="1.4"/>
<circle cx="689.33" cy="921.20" r="2.0" fill="#fff" stroke="#151515" stroke-width="1.4"/>
<circle cx="699.66" cy="717.60" r="2.0" fill="#fff" stroke="#151515" stroke-width="1.4"/>
<circle cx="699.66" cy="921.20" r="2.0" fill="#fff" stroke="#151515" stroke-width="1.4"/>
<circle cx="709.99" cy="717.60" r="2.0" fill="#fff" stroke="#151515" stroke-width="1.4"/>
<circle cx="709.99" cy="921.20" r="2.0" fill="#fff" stroke="#151515" stroke-width="1.4"/>
<circle cx="720.32" cy="717.60" r="2.0" fill="#fff" stroke="#151515" stroke-width="1.4"/>
<circle cx="720.32" cy="921.20" r="2.0" fill="#fff" stroke="#151515" stroke-width="1.4"/>
<circle cx="730.65" cy="717.60" r="2.0" fill="#fff" stroke="#151515" stroke-width="1.4"/>
<circle cx="730.65" cy="921.20" r="2.0" fill="#fff" stroke="#151515" stroke-width="1.4"/>
<circle cx="740.98" cy="717.60" r="2.0" fill="#fff" stroke="#151515" stroke-width="1.4"/>
<circle cx="740.98" cy="921.20" r="2.0" fill="#fff" stroke="#151515" stroke-width="1.4"/>
<circle cx="751.31" cy="717.60" r="2.0" fill="#fff" stroke="#151515" stroke-width="1.4"/>
<circle cx="751.31" cy="921.20" r="2.0" fill="#fff" stroke="#151515" stroke-width="1.4"/>
<circle cx="761.64" cy="717.60" r="2.0" fill="#fff" stroke="#151515" stroke-width="1.4"/>
<circle cx="761.64" cy="921.20" r="2.0" fill="#fff" stroke="#151515" stroke-width="1.4"/>
<circle cx="648.40" cy="743.40" r="2.0" fill="#fff" stroke="#151515" stroke-width="1.4"/>
<circle cx="792.00" cy="743.40" r="2.0" fill="#fff" stroke="#151515" stroke-width="1.4"/>
<circle cx="647.60" cy="754.25" r="2.0" fill="#fff" stroke="#151515" stroke-width="1.4"/>
<circle cx="792.80" cy="754.25" r="2.0" fill="#fff" stroke="#151515" stroke-width="1.4"/>
<circle cx="647.60" cy="765.10" r="2.0" fill="#fff" stroke="#151515" stroke-width="1.4"/>
<circle cx="792.80" cy="765.10" r="2.0" fill="#fff" stroke="#151515" stroke-width="1.4"/>
<circle cx="647.60" cy="775.95" r="2.0" fill="#fff" stroke="#151515" stroke-width="1.4"/>
<circle cx="792.80" cy="775.95" r="2.0" fill="#fff" stroke="#151515" stroke-width="1.4"/>
<circle cx="647.60" cy="786.80" r="2.0" fill="#fff" stroke="#151515" stroke-width="1.4"/>
<circle cx="792.80" cy="786.80" r="2.0" fill="#fff" stroke="#151515" stroke-width="1.4"/>
<circle cx="647.60" cy="797.65" r="2.0" fill="#fff" stroke="#151515" stroke-width="1.4"/>
<circle cx="792.80" cy="797.65" r="2.0" fill="#fff" stroke="#151515" stroke-width="1.4"/>
<circle cx="647.60" cy="808.50" r="2.0" fill="#fff" stroke="#151515" stroke-width="1.4"/>
<circle cx="792.80" cy="808.50" r="2.0" fill="#fff" stroke="#151515" stroke-width="1.4"/>
<circle cx="647.60" cy="819.35" r="2.0" fill="#fff" stroke="#151515" stroke-width="1.4"/>
<circle cx="792.80" cy="819.35" r="2.0" fill="#fff" stroke="#151515" stroke-width="1.4"/>
<circle cx="647.60" cy="830.20" r="2.0" fill="#fff" stroke="#151515" stroke-width="1.4"/>
<circle cx="792.80" cy="830.20" r="2.0" fill="#fff" stroke="#151515" stroke-width="1.4"/>
<circle cx="647.60" cy="841.05" r="2.0" fill="#fff" stroke="#151515" stroke-width="1.4"/>
<circle cx="792.80" cy="841.05" r="2.0" fill="#fff" stroke="#151515" stroke-width="1.4"/>
<circle cx="647.60" cy="851.90" r="2.0" fill="#111" stroke="#151515" stroke-width="1.4"/>
<circle cx="792.80" cy="851.90" r="2.0" fill="#111" stroke="#151515" stroke-width="1.4"/>
<circle cx="647.60" cy="862.75" r="2.0" fill="#111" stroke="#151515" stroke-width="1.4"/>
<circle cx="792.80" cy="862.75" r="2.0" fill="#111" stroke="#151515" stroke-width="1.4"/>
<circle cx="647.60" cy="873.60" r="2.0" fill="#fff" stroke="#151515" stroke-width="1.4"/>
<circle cx="792.80" cy="873.60" r="2.0" fill="#fff" stroke="#151515" stroke-width="1.4"/>
<circle cx="647.60" cy="884.45" r="2.0" fill="#fff" stroke="#151515" stroke-width="1.4"/>
<circle cx="792.80" cy="884.45" r="2.0" fill="#fff" stroke="#151515" stroke-width="1.4"/>
<circle cx="648.40" cy="895.30" r="2.0" fill="#fff" stroke="#151515" stroke-width="1.4"/>
<circle cx="792.00" cy="895.30" r="2.0" fill="#fff" stroke="#151515" stroke-width="1.4"/>
<circle cx="668.60" cy="720.00" r="2.0" fill="#fff" stroke="#151515" stroke-width="1.4"/>
<circle cx="668.60" cy="918.60" r="2.0" fill="#fff" stroke="#151515" stroke-width="1.4"/>
<circle cx="771.80" cy="720.00" r="2.0" fill="#fff" stroke="#151515" stroke-width="1.4"/>
<circle cx="771.80" cy="918.60" r="2.0" fill="#fff" stroke="#151515" stroke-width="1.4"/>
<circle cx="660.00" cy="725.60" r="2.0" fill="#fff" stroke="#151515" stroke-width="1.4"/>
<circle cx="660.00" cy="913.00" r="2.0" fill="#fff" stroke="#151515" stroke-width="1.4"/>
<circle cx="780.40" cy="725.60" r="2.0" fill="#fff" stroke="#151515" stroke-width="1.4"/>
<circle cx="780.40" cy="913.00" r="2.0" fill="#fff" stroke="#151515" stroke-width="1.4"/>
<circle cx="653.40" cy="733.40" r="2.0" fill="#fff" stroke="#151515" stroke-width="1.4"/>
<circle cx="653.40" cy="905.20" r="2.0" fill="#fff" stroke="#151515" stroke-width="1.4"/>
<circle cx="787.00" cy="733.40" r="2.0" fill="#fff" stroke="#151515" stroke-width="1.4"/>
<circle cx="787.00" cy="905.20" r="2.0" fill="#fff" stroke="#151515" stroke-width="1.4"/>
<rect x="671.2" y="743.5" width="98.4" height="152" rx="14.5" ry="16" fill="#fff" stroke="#141414" stroke-width="1.6"/>
<line x1="684" y1="743.4" x2="757" y2="743.4" stroke="#141414" stroke-width="2.0" />
<line x1="684" y1="895.5" x2="757" y2="895.5" stroke="#141414" stroke-width="2.0" />
<path d="M671.20,759.50 L671.20,751.00 A7.5,7.5 0 0 1 678.70,743.50 L685.20,743.50" stroke="#1c1c1c" stroke-width="1.15" fill="none" />
<path d="M769.60,759.50 L769.60,751.00 A7.5,7.5 0 0 0 762.10,743.50 L755.60,743.50" stroke="#1c1c1c" stroke-width="1.15" fill="none" />
<path d="M671.20,879.50 L671.20,888.00 A7.5,7.5 0 0 0 678.70,895.50 L685.20,895.50" stroke="#1c1c1c" stroke-width="1.15" fill="none" />
<path d="M769.60,879.50 L769.60,888.00 A7.5,7.5 0 0 1 762.10,895.50 L755.60,895.50" stroke="#1c1c1c" stroke-width="1.15" fill="none" />
<rect x="702.4" y="770.5" width="36.2" height="26.9" rx="5" stroke="#141414" stroke-width="1.5" fill="none" />
<line x1="596" y1="743.5" x2="671" y2="743.5" stroke="#2c2c2c" stroke-width="1.1" />
<line x1="596" y1="895.5" x2="688" y2="895.5" stroke="#2c2c2c" stroke-width="1.1" />
<line x1="597.5" y1="743.5" x2="597.5" y2="895.3" stroke="#2c2c2c" stroke-width="1.1" />
<polygon points="597.60,743.50 594.60,759.70 600.60,759.70" fill="#111"/>
<polygon points="597.60,895.30 594.60,879.10 600.60,879.10" fill="#111"/>
<g transform="translate(592,825.10) rotate(-90)"><polygon points="2.10,0.00 2.10,-10.75 0.85,-9.05 0.00,-10.05 2.60,-13.35 3.85,-13.35 3.85,0.00" fill="#151515"/><text transform="translate(6.85,0) scale(0.849,1)" font-size="19.4">4</text><text transform="translate(18.20,0) scale(0.902,1)" font-size="19.4">5</text></g>
<line x1="769.6" y1="711.5" x2="845.5" y2="711.5" stroke="#2c2c2c" stroke-width="1.1" />
<line x1="766" y1="927.5" x2="845.5" y2="927.5" stroke="#2c2c2c" stroke-width="1.1" />
<line x1="843.5" y1="711" x2="843.5" y2="927.5" stroke="#2c2c2c" stroke-width="1.1" />
<polygon points="843.60,711.00 840.60,727.20 846.60,727.20" fill="#111"/>
<polygon points="843.60,927.50 840.60,911.30 846.60,911.30" fill="#111"/>
<g transform="translate(839,831.10) rotate(-90)"><text transform="translate(-0.85,0) scale(0.875,1)" font-size="19.4">2</text><text transform="translate(9.10,0) scale(0.834,1)" font-size="19.4">0</text><text transform="translate(18.59,0) scale(0.877,1)" font-size="19.4">7</text></g>
<path d="M612.6,874 L612.6,857 Q612.6,847.6 622,847.6 L639,847.6" stroke="#141414" stroke-width="1.25" fill="none" />
<path d="M640,866.6 L635.5,866.6 Q631.6,866.6 631.4,870.5 Q631.4,872.5 632.4,874" stroke="#141414" stroke-width="1.25" fill="none" />
<rect x="618.5" y="857.5" width="9" height="10" rx="0" stroke="#141414" stroke-width="1.1" fill="none" />
<path d="M641.6,842.6 Q639.5,844 639.2,848 L639.2,866 Q639.5,869.6 641.6,871 Z" stroke="#111" stroke-width="1.2" fill="#111" />
<rect x="611.4" y="874" width="21.4" height="14.6" rx="0" stroke="#1c1c1c" stroke-width="0.5" fill="#1c1c1c" />
<line x1="611.5" y1="888.6" x2="611.5" y2="957.5" stroke="#2c2c2c" stroke-width="1.1" />
<line x1="632.5" y1="888.6" x2="632.5" y2="911" stroke="#2c2c2c" stroke-width="1.1" />
<line x1="570" y1="909.5" x2="657" y2="909.5" stroke="#2c2c2c" stroke-width="1.1" />
<polygon points="611.80,909.60 595.60,906.60 595.60,912.60" fill="#111"/>
<polygon points="633.00,909.60 649.20,906.60 649.20,912.60" fill="#111"/>
<g transform="translate(553.90,902.8)"><text transform="translate(-0.65,0) scale(0.663,1)" font-size="19.4">G</text><polygon points="19.65,0.00 19.65,-10.75 18.40,-9.05 17.55,-10.05 20.15,-13.35 21.40,-13.35 21.40,0.00" fill="#151515"/><text transform="translate(23.40,0) scale(1.169,1)" font-size="19.4">/</text><text transform="translate(30.94,0) scale(0.781,1)" font-size="19.4">2</text></g>
<path d="M828.4,874 L828.4,857 Q828.4,847.6 819,847.6 L802,847.6" stroke="#141414" stroke-width="1.25" fill="none" />
<path d="M801,866.6 L805.5,866.6 Q809.4,866.6 809.6,870.5 Q809.6,872.5 808.6,874" stroke="#141414" stroke-width="1.25" fill="none" />
<rect x="813.5" y="857.5" width="9" height="10" rx="0" stroke="#141414" stroke-width="1.1" fill="none" />
<path d="M799.4,842.6 Q801.5,844 801.8,848 L801.8,866 Q801.5,869.6 799.4,871 Z" stroke="#111" stroke-width="1.2" fill="#111" />
<rect x="808.4" y="874" width="20.6" height="14.6" rx="0" stroke="#1c1c1c" stroke-width="0.5" fill="#1c1c1c" />
<line x1="808.5" y1="888.6" x2="808.5" y2="901" stroke="#2c2c2c" stroke-width="1.1" />
<line x1="828.5" y1="888.6" x2="828.5" y2="957.5" stroke="#2c2c2c" stroke-width="1.1" />
<line x1="786" y1="899.5" x2="891" y2="899.5" stroke="#2c2c2c" stroke-width="1.1" />
<polygon points="808.60,899.40 792.40,896.40 792.40,902.40" fill="#111"/>
<polygon points="829.00,899.40 845.20,896.40 845.20,902.40" fill="#111"/>
<g transform="translate(851.70,895.2)"><text transform="translate(-0.65,0) scale(0.663,1)" font-size="19.4">G</text><polygon points="19.65,0.00 19.65,-10.75 18.40,-9.05 17.55,-10.05 20.15,-13.35 21.40,-13.35 21.40,0.00" fill="#151515"/><text transform="translate(23.40,0) scale(1.169,1)" font-size="19.4">/</text><text transform="translate(30.94,0) scale(0.781,1)" font-size="19.4">2</text></g>
<line x1="612" y1="955.5" x2="828.8" y2="955.5" stroke="#2c2c2c" stroke-width="1.1" />
<polygon points="612.00,955.60 628.20,952.60 628.20,958.60" fill="#111"/>
<polygon points="828.80,955.60 812.60,952.60 812.60,958.60" fill="#111"/>
<g transform="translate(705.90,951.2)"><text transform="translate(-0.83,0) scale(0.852,1)" font-size="19.4">2</text><text transform="translate(8.70,0) scale(0.852,1)" font-size="19.4">2</text><text transform="translate(18.45,0) scale(0.812,1)" font-size="19.4">0</text></g>
</svg>
</body></html>
